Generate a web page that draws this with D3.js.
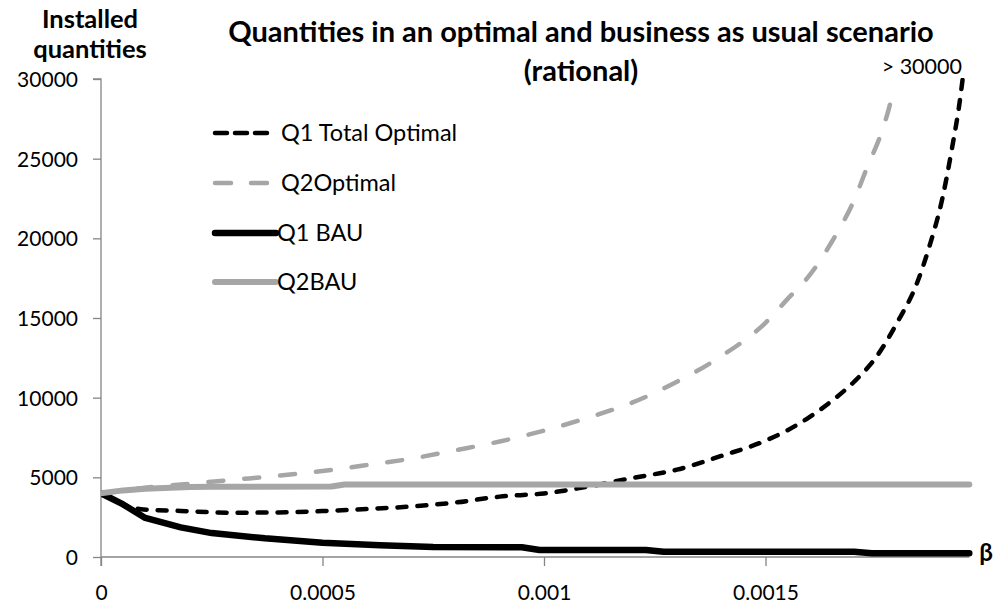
<!DOCTYPE html>
<html>
<head>
<meta charset="utf-8">
<script src="https://cdn.jsdelivr.net/npm/d3@7"></script>
<style>
  html, body { margin: 0; padding: 0; background: #fff; }
  svg { display: block; }
  text { font-family: Lato, "Open Sans", sans-serif; fill: #000; }
</style>
</head>
<body>
<svg id="chart" width="1002" height="605"></svg>
<script>
// Installed quantities as a function of beta
const betaQ1Optimal = [0, 0.00009, 0.00018, 0.0003, 0.0004, 0.0005, 0.0006, 0.0007, 0.0008, 0.0009, 0.001, 0.0011, 0.0012, 0.0013, 0.0014, 0.0015, 0.00155, 0.0016, 0.00165, 0.0017, 0.00175, 0.0018, 0.00184, 0.00187, 0.0019, 0.00192, 0.00194, 0.001945];
const q1TotalOptimal = [4000, 3000, 2890, 2780, 2800, 2880, 3010, 3170, 3420, 3790, 3990, 4420, 4960, 5480, 6340, 7300, 7960, 8790, 9800, 11000, 12550, 14850, 17050, 19500, 22600, 25500, 28900, 30000];

const betaQ2Optimal = [0, 0.0001, 0.0002, 0.0003, 0.0004, 0.0005, 0.0006, 0.0007, 0.0008, 0.0009, 0.001, 0.0011, 0.0012, 0.0013, 0.0014, 0.0015, 0.00155, 0.0016, 0.00165, 0.0017, 0.00173, 0.00176, 0.00178, 0.00179];
const q2Optimal = [4000, 4350, 4600, 4850, 5100, 5400, 5770, 6170, 6700, 7250, 7930, 8750, 9700, 11000, 12600, 14700, 16200, 17700, 19800, 22400, 24500, 26500, 28300, 29500];

const betaQ1BAU = [0, 0.00005, 0.0001, 0.00018, 0.00025, 0.00037, 0.0005, 0.00063, 0.00075, 0.00095, 0.00099, 0.00123, 0.00127, 0.0017, 0.00174, 0.00196];
const q1BAU = [4000, 3300, 2450, 1860, 1500, 1170, 900, 730, 620, 610, 440, 440, 330, 330, 230, 230];

const betaQ2BAU = [0, 0.00005, 0.0001, 0.0002, 0.00025, 0.00052, 0.00055, 0.00196];
const q2BAU = [4000, 4180, 4290, 4390, 4410, 4420, 4550, 4550];

const seriesNames = ["Q1 Total Optimal", "Q2Optimal", "Q1 BAU", "Q2BAU"];
const xTicks = [0, 0.0005, 0.001, 0.0015];
const xTickLabels = ["0", "0.0005", "0.001", "0.0015"];
const yTicks = [0, 5000, 10000, 15000, 20000, 25000, 30000];

const chartTitle = ["Quantities in an optimal and business as usual scenario", "(rational)"];
const yTitle = ["Installed", "quantities"];
const xTitle = "\u03B2";
const overflowLabel = "> 30000";

// Line styles per series
const styles = [
  { color: "#000000", width: 4.5, dash: "9,11", cap: "round" },
  { color: "#a6a6a6", width: 4.5, dash: "15,21", cap: "round" },
  { color: "#000000", width: 6.5, dash: null, cap: "round" },
  { color: "#a6a6a6", width: 6, dash: null, cap: "round" }
];

const svg = d3.select("#chart");
const plot = { left: 101, top: 79, bottom: 557 };

const x = d3.scaleLinear().domain([0, 0.00196]).range([plot.left, plot.left + 0.00196 / 0.0005 * 221.5]);
const y = d3.scaleLinear().domain([0, 30000]).range([plot.bottom, plot.top]);

svg.append("defs").append("clipPath").attr("id", "plotClip")
  .append("rect")
  .attr("x", x(0)).attr("y", y(30000) - 1)
  .attr("width", x(0.00196) - x(0) + 10).attr("height", y(0) - y(30000) + 10);

// Y axis
const yAxis = d3.axisLeft(y).tickValues(yTicks).tickSize(8).tickPadding(15).tickFormat(d3.format("d"));
const gy = svg.append("g").attr("transform", `translate(${plot.left},0)`).call(yAxis);
gy.select(".domain").attr("d", `M-8,${y(30000)}H0V${y(0) + 9}`);

// X axis
const xAxis = d3.axisBottom(x).tickValues(xTicks).tickSize(9).tickPadding(19)
  .tickFormat((d, i) => xTickLabels[i]);
const gx = svg.append("g").attr("transform", `translate(0,${plot.bottom})`).call(xAxis);
gx.select(".domain").attr("d", `M${x(0)},0H${x(0.00196)}`);

[gx, gy].forEach(g => {
  g.selectAll(".domain, .tick line").attr("stroke", "#868686").attr("stroke-width", 1.3);
  g.selectAll(".tick text").style("font-size", "21px").attr("fill", "#000");
});
gy.selectAll(".tick text").attr("dy", "0.35em");

// Series lines
const seriesData = [
  d3.zip(betaQ1Optimal, q1TotalOptimal),
  d3.zip(betaQ2Optimal, q2Optimal),
  d3.zip(betaQ1BAU, q1BAU),
  d3.zip(betaQ2BAU, q2BAU)
];

const line = d3.line().x(d => x(d[0])).y(d => y(d[1])).curve(d3.curveMonotoneX);
const bauLine = d3.line().x(d => x(d[0])).y(d => y(d[1])).curve(d3.curveLinear);

const gLines = svg.append("g").attr("clip-path", "url(#plotClip)");
seriesData.forEach((data, i) => {
  const s = styles[i];
  gLines.append("path")
    .datum(data)
    .attr("d", i < 2 ? line : bauLine)
    .attr("fill", "none")
    .attr("stroke", s.color)
    .attr("stroke-width", s.width)
    .attr("stroke-linecap", s.cap)
    .attr("stroke-linejoin", "round")
    .attr("stroke-dasharray", s.dash);
});

// Legend
const legendRows = [133, 183, 233, 282];
const legend = svg.append("g");
seriesNames.forEach((name, i) => {
  const s = styles[i];
  const ly = legendRows[i];
  legend.append("line")
    .attr("x1", 215).attr("x2", i < 2 ? 268 : 276)
    .attr("y1", ly).attr("y2", ly)
    .attr("stroke", s.color)
    .attr("stroke-width", s.width)
    .attr("stroke-linecap", s.cap)
    .attr("stroke-dasharray", i === 0 ? "12,8" : i === 1 ? "16,20" : null);
  legend.append("text")
    .attr("x", i < 2 ? 281 : 277).attr("y", ly)
    .attr("dy", "0.35em")
    .style("font-size", "23.5px")
    .text(name);
});

// Titles
svg.append("text").attr("x", 581).attr("y", 42).attr("text-anchor", "middle")
  .style("font-size", "29px").style("font-weight", "bold").text(chartTitle[0]);
svg.append("text").attr("x", 581).attr("y", 81).attr("text-anchor", "middle")
  .style("font-size", "29px").style("font-weight", "bold").text(chartTitle[1]);

svg.append("text").attr("x", 90).attr("y", 28).attr("text-anchor", "middle")
  .style("font-size", "25.5px").style("font-weight", "bold").text(yTitle[0]);
svg.append("text").attr("x", 90).attr("y", 58).attr("text-anchor", "middle")
  .style("font-size", "25.5px").style("font-weight", "bold").text(yTitle[1]);

svg.append("text").attr("x", 986).attr("y", 561).attr("text-anchor", "middle")
  .style("font-size", "24px").style("font-weight", "bold").text(xTitle);

svg.append("text").attr("x", 962).attr("y", 74).attr("text-anchor", "end")
  .style("font-size", "21.5px").text(overflowLabel);
</script>
</body>
</html>
